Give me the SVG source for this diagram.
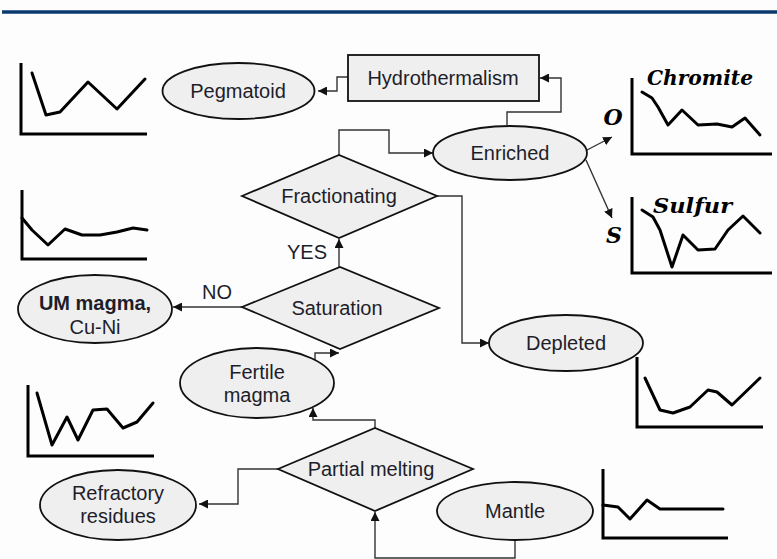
<svg xmlns="http://www.w3.org/2000/svg" width="777" height="559" viewBox="0 0 777 559">
<style>
.n{fill:#efefef;stroke:#111;stroke-width:1.8}
.t{font-family:"Liberation Sans",Arial,sans-serif;font-size:20px;fill:#1e1e2a;text-anchor:middle}
.c{fill:none;stroke:#333;stroke-width:1.4}
.ch{fill:none;stroke:#000;stroke-width:3;stroke-linejoin:round;stroke-linecap:round}
.ax{fill:none;stroke:#000;stroke-width:3}
.s{font-family:"DejaVu Serif","Liberation Serif",serif;font-weight:bold;font-style:italic;fill:#000}
</style>
<defs>
<marker id="ah" viewBox="0 0 10 10" refX="10" refY="5" markerWidth="9" markerHeight="9" markerUnits="userSpaceOnUse" orient="auto">
<path d="M0,0 L10,5 L0,10 Z" fill="#111"/>
</marker>
</defs>
<rect width="777" height="559" fill="#fdfdfd"/>
<line x1="2" y1="12" x2="777" y2="12" stroke="#0b3a6e" stroke-width="3.5"/>

<g id="connectors">
<path class="c" d="M348,77 H337 V91 H318" marker-end="url(#ah)"/>
<path class="c" d="M507,125 V112 H561 V78 H540" marker-end="url(#ah)"/>
<path class="c" d="M587,150 L612,137" marker-end="url(#ah)"/>
<path class="c" d="M586,160 L612,218" marker-end="url(#ah)"/>
<path class="c" d="M339,155 V130 H389 V153 H433" marker-end="url(#ah)"/>
<path class="c" d="M437,196 H462 V343 H489" marker-end="url(#ah)"/>
<path class="c" d="M339,267 V239" marker-end="url(#ah)"/>
<path class="c" d="M242,307 H173" marker-end="url(#ah)"/>
<path class="c" d="M315,361 V353 H339" marker-end="url(#ah)"/>
<path class="c" d="M375,428 V420 H313 V408" marker-end="url(#ah)"/>
<path class="c" d="M278,469 H238 V504 H199" marker-end="url(#ah)"/>
<path class="c" d="M515,540 V558 H375 V512" marker-end="url(#ah)"/>
<text class="t" x="307" y="259">YES</text>
<text class="t" x="217" y="299">NO</text>
</g>

<g id="hydrothermalism"><rect class="n" x="348" y="55" width="191" height="46"/><text class="t" x="443" y="85">Hydrothermalism</text></g>
<g id="pegmatoid"><ellipse class="n" cx="238.5" cy="91" rx="76" ry="28"/><text class="t" x="238" y="98">Pegmatoid</text></g>
<g id="enriched"><ellipse class="n" cx="510" cy="153" rx="77" ry="27"/><text class="t" x="510" y="160">Enriched</text></g>
<g id="fractionating"><polygon class="n" points="242,196 339,155 437,196 339,238"/><text class="t" x="339" y="203">Fractionating</text></g>
<g id="depleted"><ellipse class="n" cx="566" cy="343" rx="77" ry="28"/><text class="t" x="566" y="350">Depleted</text></g>
<g id="saturation"><polygon class="n" points="242,307 340,267 439,308 340,349"/><text class="t" x="337" y="315">Saturation</text></g>
<g id="um-magma"><ellipse class="n" cx="95" cy="309" rx="77" ry="34"/><text class="t" x="95" y="310" font-weight="bold">UM magma,</text><text class="t" x="95" y="334">Cu-Ni</text></g>
<g id="fertile-magma"><ellipse class="n" cx="257" cy="383" rx="77" ry="35"/><text class="t" x="257" y="379">Fertile</text><text class="t" x="257" y="402">magma</text></g>
<g id="partial-melting"><polygon class="n" points="278,469 375,428 473,469 375,511"/><text class="t" x="371" y="476">Partial melting</text></g>
<g id="refractory-residues"><ellipse class="n" cx="118" cy="505" rx="78" ry="35"/><text class="t" x="118" y="500">Refractory</text><text class="t" x="118" y="523">residues</text></g>
<g id="mantle"><ellipse class="n" cx="515" cy="511" rx="78" ry="29"/><text class="t" x="515" y="518">Mantle</text></g>

<g id="charts">
<path class="ax" d="M21,63 V134 H147"/>
<polyline class="ch" points="32,73 46,115 60,112 88,82 117,109 145,79"/>
<path class="ax" d="M22,190 V259 H147"/>
<polyline class="ch" points="22,218 32,230 48,245 65,229 82,235 100,235 117,232 133,228 147,230"/>
<path class="ax" d="M28,385 V456 H154"/>
<polyline class="ch" points="37,393 52,445 67,417 78,440 93,410 107,409 123,428 137,422 153,403"/>
<path class="ax" d="M632,78 V154 H772"/>
<polyline class="ch" points="642,92 652,98 658,107 668,125 682,110 698,125 717,124 732,127 745,118 760,135"/>
<text class="s" x="647" y="85" font-size="21" textLength="106" lengthAdjust="spacingAndGlyphs">Chromite</text>
<text class="s" x="613" y="125" font-size="22" text-anchor="middle">O</text>
<path class="ax" d="M632,197 V273 H772"/>
<polyline class="ch" points="642,210 653,217 660,230 672,267 683,235 698,250 715,249 728,230 743,216 760,233"/>
<text class="s" x="653" y="213" font-size="21" textLength="79" lengthAdjust="spacingAndGlyphs">Sulfur</text>
<text class="s" x="614" y="243" font-size="22" text-anchor="middle">S</text>
<path class="ax" d="M637,357 V427 H763"/>
<polyline class="ch" points="645,378 660,410 673,413 690,407 708,390 717,392 732,405 760,378"/>
<path class="ax" d="M603,469 V538 H728"/>
<polyline class="ch" points="603,505 618,507 630,519 647,500 660,509 723,509"/>
</g>
</svg>
